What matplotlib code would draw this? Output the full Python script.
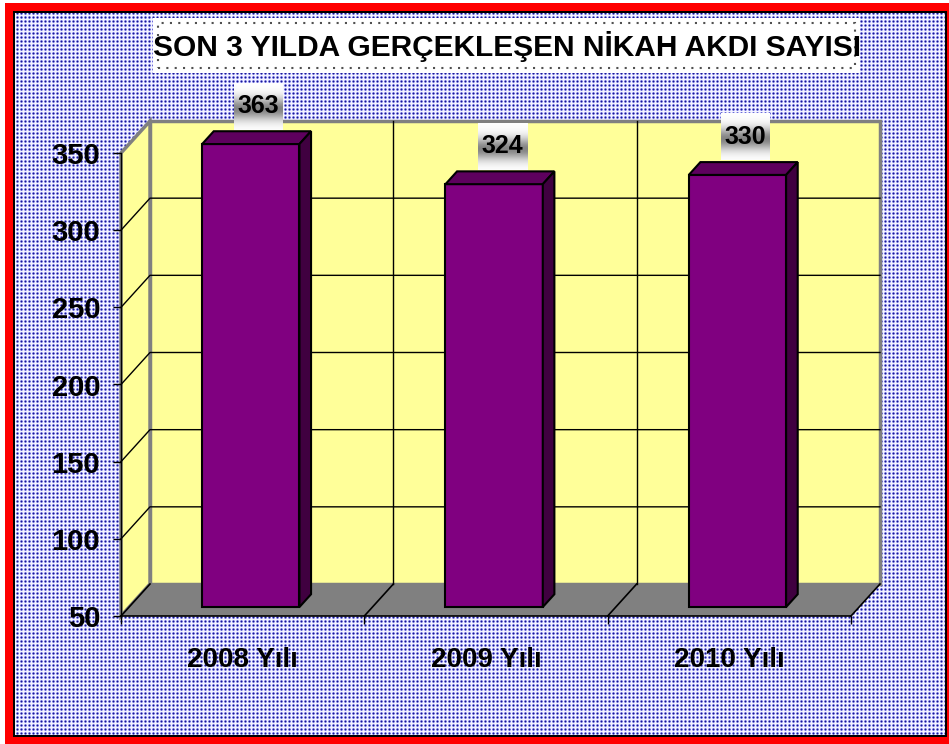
import numpy as np
import matplotlib
matplotlib.use('Agg')
import matplotlib.pyplot as plt
from matplotlib.patches import Polygon, Rectangle

# veriler
categories = ['2008 Yılı', '2009 Yılı', '2010 Yılı']
values = [363, 324, 330]
y_ticks = [50, 100, 150, 200, 250, 300, 350]
title = 'SON 3 YILDA GERÇEKLEŞEN NİKAH AKDI SAYISI'

W, H = 949, 744
plt.rcParams['font.family'] = ['Liberation Sans', 'DejaVu Sans']
plt.rcParams['font.weight'] = 'bold'

fig = plt.figure(figsize=(W / 100, H / 100), dpi=100)

# arka plan: kirmizi cerceve + noktali desen
bg = np.ones((H, W, 3))
yy, xx = np.mgrid[0:H, 0:W]
ax_d = np.abs(xx % 4 - 1)
ay_d = np.abs(yy % 4 - 1)
pat = np.empty((H, W, 3))
pat[:] = (0.96, 0.96, 1.0)
pat[(ax_d <= 1) & (ay_d <= 1)] = (0.76, 0.76, 0.96)
pat[((ax_d == 0) & (ay_d == 1)) | ((ax_d == 1) & (ay_d == 0))] = (0.42, 0.42, 0.85)
pat[(ax_d == 0) & (ay_d == 0)] = (0.12, 0.12, 0.52)

bg[3:, 5:] = (1.0, 0.0, 0.0)
bg[11:737, 13:947] = (0.0, 0.0, 0.0)
bg[13:735, 15:945] = pat[13:735, 15:945]
fig.figimage(bg, xo=0, yo=0, origin='upper', zorder=0)

# on duzlem eksenleri
ax = fig.add_axes([121 / W, (H - 616) / H, 730 / W, 463 / H], zorder=1)
ax.set_xlim(0, 3)
ax.set_ylim(50, 350)
ax.patch.set_visible(False)

px_x = 730 / 3
px_y = 463 / 300
dx = 29 / px_x
dy = 32 / px_y
ymin, ymax = 50, 350

# duvarlar ve zemin
ax.add_patch(Rectangle((dx, ymin + dy), 3, ymax - ymin, fc='#FFFF99', ec='#808080',
                       lw=2.5, clip_on=False, zorder=1))
ax.add_patch(Polygon([(0, ymin), (dx, ymin + dy), (dx, ymax + dy), (0, ymax)],
                     fc='#FFFF99', ec='#808080', lw=2.5, clip_on=False, zorder=1))
ax.add_patch(Polygon([(0, ymin), (3, ymin), (3 + dx, ymin + dy), (dx, ymin + dy)],
                     fc='#808080', ec='none', clip_on=False, zorder=1))

for v in y_ticks[1:-1]:
    ax.plot([0, dx, 3 + dx], [v, v + dy, v + dy], color='black', lw=1, clip_on=False, zorder=2)
for i in range(1, 3):
    ax.plot([i + dx, i + dx], [ymin + dy, ymax + dy], color='black', lw=1, clip_on=False, zorder=2)
for i in range(0, 4):
    ax.plot([i, i + dx], [ymin, ymin + dy], color='black', lw=1.2, clip_on=False, zorder=2)

# 3B cubuklar
tf, tb = 0.28, 0.68
bw = 0.4
for i, v in enumerate(values):
    top = min(v, ymax)
    x0 = i + 0.5 - bw / 2
    x1 = i + 0.5 + bw / 2
    ax.add_patch(Rectangle((x0 + tf * dx, ymin + tf * dy), bw, top - ymin, fc='#800080',
                           ec='black', lw=1.5, clip_on=False, zorder=3))
    ax.add_patch(Polygon([(x0 + tf * dx, top + tf * dy), (x1 + tf * dx, top + tf * dy),
                          (x1 + tb * dx, top + tb * dy), (x0 + tb * dx, top + tb * dy)],
                         fc='#5e005e', ec='black', lw=1.5, clip_on=False, zorder=3))
    ax.add_patch(Polygon([(x1 + tf * dx, ymin + tf * dy), (x1 + tb * dx, ymin + tb * dy),
                          (x1 + tb * dx, top + tb * dy), (x1 + tf * dx, top + tf * dy)],
                         fc='#400040', ec='black', lw=1.5, clip_on=False, zorder=3))

    # deger etiketi (gri gecisli kutu)
    cx = i + 0.5 + tf * dx + 8 / px_x
    cy = top + tf * dy + 38 / px_y
    hw = 24.5 / px_x
    hh = 23.5 / px_y
    s = np.linspace(0, 1, 47)
    g = 1 - 0.48 * np.exp(-((s - 0.55) / 0.24) ** 2)
    grad = np.dstack([g, g, g]).reshape(47, 1, 3)
    ax.imshow(grad, extent=[cx - hw, cx + hw, cy - hh, cy + hh], aspect='auto',
              interpolation='bilinear', clip_on=False, zorder=4)
    ax.text(cx, cy, str(v), ha='center', va='center', fontsize=18, fontweight='bold',
            zorder=5, clip_on=False)

ax.set_xlim(0, 3)
ax.set_ylim(50, 350)

# eksenler
ax.spines['top'].set_visible(False)
ax.spines['right'].set_visible(False)
ax.spines['left'].set_linewidth(1)
ax.spines['bottom'].set_linewidth(1.2)
ax.set_yticks(y_ticks)
ax.set_yticklabels([str(t) for t in y_ticks], fontsize=21, fontweight='bold')
ax.tick_params(axis='y', direction='out', length=6, width=1, pad=9)
ax.set_xticks([0, 1, 2, 3])
ax.set_xticklabels([])
ax.tick_params(axis='x', which='major', direction='out', length=6, width=1)
ax.set_xticks([0.5, 1.5, 2.5], minor=True)
ax.set_xticklabels(categories, minor=True, fontsize=20, fontweight='bold')
ax.tick_params(axis='x', which='minor', length=0, pad=22)

# baslik kutusu
def fx(x):
    return x / W


def fy(y):
    return 1 - y / H


fig.add_artist(Rectangle((fx(153), fy(73)), fx(860) - fx(153), fy(18) - fy(73),
                         transform=fig.transFigure, fc='white', ec='none', zorder=2))
fig.add_artist(Rectangle((fx(158), fy(68)), fx(855) - fx(158), fy(23) - fy(68),
                         transform=fig.transFigure, fc='none', ec='#505050', lw=1.5,
                         ls=(0, (1, 3)), zorder=2))
fig.text(fx(507), fy(46), title, ha='center', va='center', fontsize=21.5,
         fontweight='bold', zorder=3)

fig.savefig('out.png', dpi=100)
